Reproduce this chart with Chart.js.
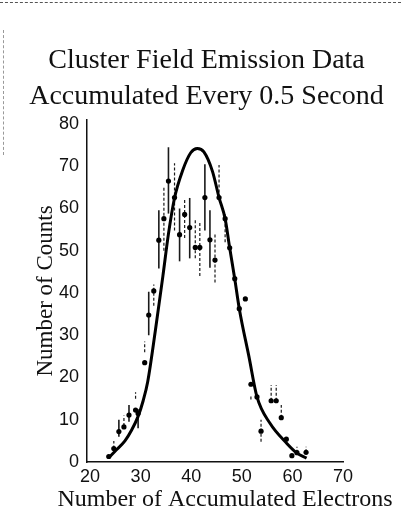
<!DOCTYPE html>
<html>
<head>
<meta charset="utf-8">
<script src="https://cdn.jsdelivr.net/npm/chart.js@4/dist/chart.umd.min.js"></script>
<style>
html,body{margin:0;padding:0;background:#fff;}
#wrap{position:relative;width:401px;height:514px;overflow:hidden;}
.scanTop{position:absolute;left:0;top:2px;width:401px;border-top:1px dashed #555;}
.scanLeft{position:absolute;left:3px;top:30px;height:125px;border-left:1px dashed #999;}
</style>
</head>
<body>
<div id="wrap">
<canvas id="c" width="401" height="514"></canvas>
<div class="scanTop"></div>
<div class="scanLeft"></div>
</div>
<script>
// ---- data ----
const titleLines = ['Cluster Field Emission Data', 'Accumulated Every 0.5 Second'];
const xTitle = 'Number of Accumulated Electrons';
const yTitle = 'Number of Counts';
const xTicks = [20, 30, 40, 50, 60, 70];
const yTicks = [0, 10, 20, 30, 40, 50, 60, 70, 80];

// measured points
const pointX = [23.7, 24.7, 25.7, 26.7, 27.7, 29.0, 29.5, 30.8, 31.6, 32.6, 33.6, 34.6, 35.5, 36.7, 37.7, 38.7, 39.7, 40.8, 41.7, 42.7, 43.7, 44.7, 45.5, 46.7, 47.6, 48.6, 49.5, 50.7, 51.8, 53.0, 53.8, 55.8, 56.8, 57.8, 58.8, 59.9, 60.9, 62.7];
const pointY = [1.3, 3.2, 7.2, 8.3, 11.1, 12.3, 11.5, 23.5, 34.8, 40.5, 52.5, 57.6, 66.5, 62.6, 53.8, 58.6, 55.5, 50.8, 50.8, 62.6, 52.6, 47.8, 62.6, 57.6, 50.7, 43.4, 36.3, 38.6, 18.4, 15.4, 7.3, 14.5, 14.5, 10.5, 5.4, 1.5, 2.2, 2.3];
// error bar ends (null = no bar) and style (s = solid, d = dotted)
const errLow  = [null, 3.2, 6.0, 8.5, 9.5, 15.0, 8.0, 26.0, 30.0, 37.0, 45.8, 50.0, 58.8, 54.8, 47.5, 53.0, 48.2, 48.2, 44.0, 54.8, 46.0, 42.5, 62.6, 52.0, null, null, null, null, 14.8, null, 4.8, 14.5, 14.5, 10.5, null, null, 2.2, 2.3];
const errHigh = [null, 5.0, 10.0, 11.0, 13.5, 16.5, 12.5, 28.5, 40.3, 42.0, 59.6, 65.0, 74.5, 70.7, 60.0, 62.0, 62.5, 57.6, 57.0, 70.5, 59.6, 54.0, 70.3, 59.0, null, null, null, null, 16.0, null, 10.0, 18.2, 18.2, 13.5, null, null, 3.6, 3.6];
const errStyle = ['', 'd', 's', 'd', 's', 'd', 's', 'd', 's', 'd', 's', 'd', 's', 'd', 's', 'd', 's', 'd', 'd', 's', 's', 'd', 'd', 'd', '', '', '', '', 'd', '', 'd', 'd', 'd', 'd', '', '', 'd', 'd'];

// fitted curve
const curveX = [23.7, 24.9, 26.9, 28.2, 29.5, 30.5, 31.4, 32.9, 34.4, 35.5, 36.7, 38.3, 39.9, 41.2, 42.5, 44.2, 45.5, 46.7, 47.6, 48.6, 49.5, 51.4, 53.0, 55.6, 58.9, 60.9, 62.8];
const curveY = [1.0, 2.5, 5.0, 7.5, 10.8, 14.5, 19.0, 31.0, 44.0, 54.0, 62.5, 69.0, 73.2, 74.2, 73.4, 68.8, 62.6, 57.6, 50.7, 43.4, 36.3, 25.0, 15.4, 9.1, 4.4, 2.1, 0.9];

// ---- chart ----
const serif = 'Liberation Serif';

const errorBars = {
  id: 'errorBars',
  beforeDatasetsDraw(chart) {
    const {ctx, scales: {x, y}} = chart;
    ctx.save();
    ctx.strokeStyle = '#1a1a1a';
    for (let i = 0; i < pointX.length; i++) {
      if (errLow[i] == null) continue;
      const px = x.getPixelForValue(pointX[i]);
      const y1 = y.getPixelForValue(errLow[i]);
      const y2 = y.getPixelForValue(errHigh[i]);
      const dashed = errStyle[i] === 'd';
      ctx.lineWidth = dashed ? 1.2 : 1.6;
      ctx.setLineDash(dashed ? [3, 2] : []);
      ctx.beginPath();
      ctx.moveTo(px, y1);
      ctx.lineTo(px, y2);
      ctx.stroke();
    }
    ctx.restore();
  }
};

// x-axis title drawn uncompressed (it is wider than the plot area in the original)
const xAxisTitle = {
  id: 'xAxisTitle',
  afterDraw(chart) {
    const {ctx, chartArea} = chart;
    ctx.save();
    ctx.fillStyle = '#111';
    ctx.font = '24px "' + serif + '"';
    ctx.textAlign = 'center';
    ctx.textBaseline = 'middle';
    ctx.fillText(xTitle, (chartArea.left + chartArea.right) / 2 + 10, chartArea.bottom + 38);
    ctx.restore();
  }
};

new Chart(document.getElementById('c'), {
  type: 'scatter',
  data: {
    datasets: [
      {
        type: 'line',
        data: curveX.map((v, i) => ({x: v, y: curveY[i]})),
        borderColor: '#000',
        borderWidth: 3,
        pointRadius: 0,
        fill: false,
        cubicInterpolationMode: 'monotone'
      },
      {
        data: pointX.map((v, i) => ({x: v, y: pointY[i]})),
        backgroundColor: '#000',
        borderColor: '#000',
        pointRadius: 2.6,
        pointBorderWidth: 0
      }
    ]
  },
  options: {
    responsive: false,
    animation: false,
    devicePixelRatio: 1,
    layout: {padding: {left: 12, right: 0, top: 0, bottom: 0}},
    plugins: {
      legend: {display: false},
      tooltip: {enabled: false},
      title: {
        display: true,
        text: titleLines,
        color: '#111',
        font: {family: serif, size: 28, weight: 'normal', lineHeight: 1.3},
        padding: {top: 42, bottom: 5}
      }
    },
    scales: {
      x: {
        type: 'linear',
        min: 19.4,
        max: 70,
        afterBuildTicks: s => { s.ticks = xTicks.map(v => ({value: v})); },
        afterFit: s => { s.height = 52; },
        grid: {display: false, drawTicks: false},
        border: {display: true, color: '#111', width: 1.5},
        ticks: {color: '#111', padding: 4, maxRotation: 0, font: {family: 'Liberation Sans', size: 18}},
        title: {display: false}
      },
      y: {
        type: 'linear',
        min: 0,
        max: 81,
        afterBuildTicks: s => { s.ticks = yTicks.map(v => ({value: v})); },
        afterFit: s => { s.width = 75; },
        grid: {display: false, drawTicks: false},
        border: {display: true, color: '#111', width: 1.5},
        ticks: {color: '#111', padding: 8, font: {family: 'Liberation Sans', size: 18}},
        title: {display: true, text: yTitle, color: '#111', padding: {top: 20, bottom: 0}, font: {family: serif, size: 23}}
      },
      spacer: {
        type: 'linear',
        position: 'right',
        display: true,
        afterFit: s => { s.width = 58; },
        grid: {display: false, drawTicks: false},
        border: {display: false},
        ticks: {display: false}
      }
    }
  },
  plugins: [errorBars, xAxisTitle]
});
</script>
</body>
</html>
